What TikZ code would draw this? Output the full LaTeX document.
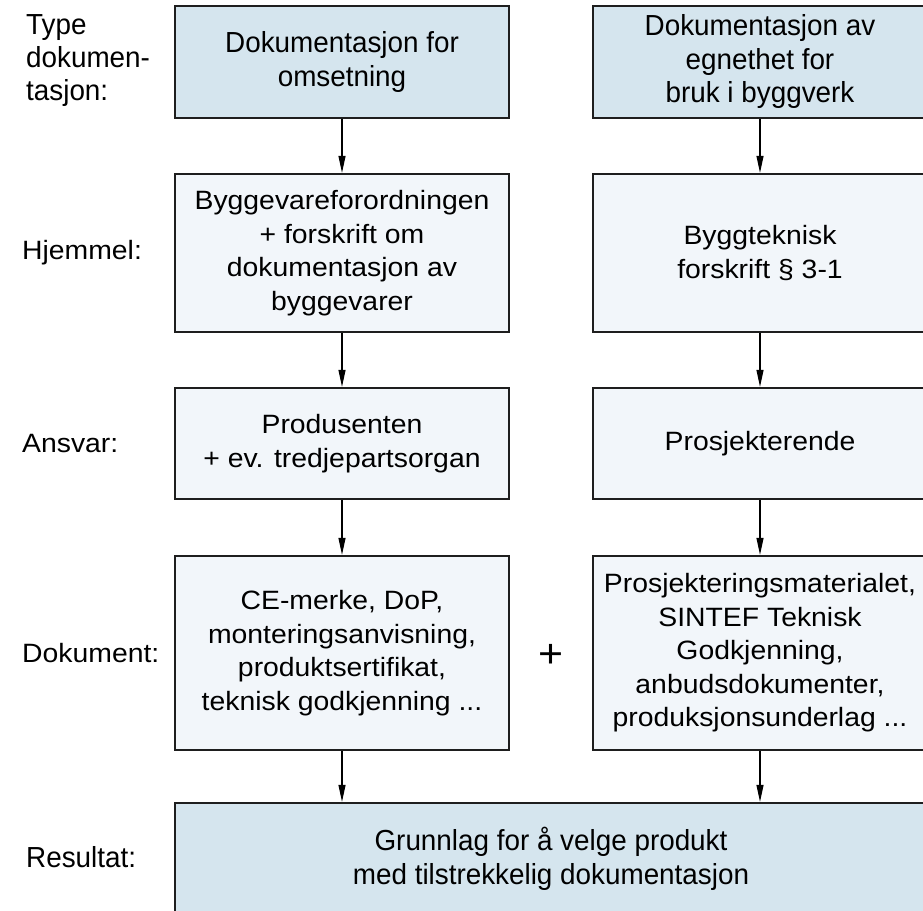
\documentclass[tikz,border=0pt]{standalone}
\usepackage{fontspec}
\setmainfont{Liberation Sans}[FakeStretch=1.07]
\newfontfamily\smalfont{Liberation Sans}[FakeStretch=0.96]
\usetikzlibrary{arrows.meta}
\definecolor{blaa}{RGB}{213,229,238}
\definecolor{lysblaa}{RGB}{242,246,250}
\definecolor{ramme}{RGB}{30,30,30}

\begin{document}
\begin{tikzpicture}[x=1pt,y=-1pt,
        boks/.style={draw=ramme, line width=2.3pt, fill=lysblaa, align=center,
          minimum width=334pt, inner sep=0pt,
          font=\fontsize{26.5}{33.5}\selectfont},
        blaaboks/.style={boks, fill=blaa, font=\smalfont\fontsize{29}{33.5}\selectfont},
        ledetekst/.style={anchor=west, align=left, inner sep=0pt,
          font=\fontsize{26.5}{33}\selectfont},
        smalledetekst/.style={ledetekst, font=\smalfont\fontsize{29}{33}\selectfont},
        pil/.style={line width=1.1pt, -{Triangle[length=17pt,width=7pt]}}]
  \useasboundingbox (0,0) rectangle (923,910);
  \clip (0,0) rectangle (923,910);
  \fill[white] (0,0) rectangle (923,910);

  \node[blaaboks, minimum height=112pt] (omsetning) at (342,62) {Dokumentasjon for\\omsetning};
  \node[blaaboks, minimum height=112pt] (egnethet) at (760,62) {Dokumentasjon av\\egnethet for\\bruk i byggverk};

  \node[boks, minimum height=158pt] (hjemmelV) at (342,253) {Byggevareforordningen\\+ forskrift om\\dokumentasjon av\\byggevarer};
  \node[boks, minimum height=158pt] (hjemmelH) at (760,253) {Byggteknisk\\forskrift \S{} 3-1};

  \node[boks, minimum height=111pt] (ansvarV) at (342,443.5) {Produsenten\\+ ev. tredjepartsorgan};
  \node[boks, minimum height=111pt] (ansvarH) at (760,443.5) {Prosjekterende};

  \node[boks, minimum height=194pt] (dokV) at (342,653) {CE-merke, DoP,\\monteringsanvisning,\\produktsertifikat,\\teknisk godkjenning ...};
  \node[boks, minimum height=194pt] (dokH) at (760,653) {Prosjekteringsmaterialet,\\SINTEF Teknisk\\Godkjenning,\\anbudsdokumenter,\\produksjonsunderlag ...};

  \node[blaaboks, minimum width=752pt, minimum height=112pt] (resultat) at (551,859) {Grunnlag for å velge produkt\\med tilstrekkelig dokumentasjon};

  \node[font=\fontsize{40}{40}\selectfont, inner sep=0pt] (pluss) at (551,656) {+};

  \node[smalledetekst] (typeLbl) at (26,61) {Type\\dokumen-\\tasjon:};
  \node[ledetekst] (hjemmelLbl) at (22,253) {Hjemmel:};
  \node[ledetekst] (ansvarLbl) at (22,443.5) {Ansvar:};
  \node[ledetekst] (dokLbl) at (22,653) {Dokument:};
  \node[smalledetekst] (resultatLbl) at (26,857) {Resultat:};

  \draw[pil] (omsetning) -- (hjemmelV);
  \draw[pil] (egnethet) -- (hjemmelH);
  \draw[pil] (hjemmelV) -- (ansvarV);
  \draw[pil] (hjemmelH) -- (ansvarH);
  \draw[pil] (ansvarV) -- (dokV);
  \draw[pil] (ansvarH) -- (dokH);
  \draw[pil] (dokV.south) -- (dokV.south |- resultat.north);
  \draw[pil] (dokH.south) -- (dokH.south |- resultat.north);
\end{tikzpicture}
\end{document}
